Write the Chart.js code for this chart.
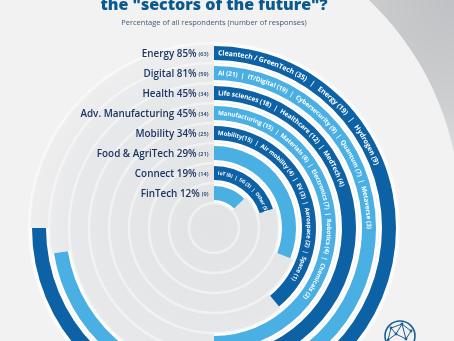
<!DOCTYPE html>
<html><head><meta charset="utf-8">
<script src="https://cdn.jsdelivr.net/npm/chart.js@4.4.1/dist/chart.umd.min.js"></script>
<style>
html,body{margin:0;padding:0;width:454px;height:341px;overflow:hidden;background:#f2f2f3;}
#wrap{position:absolute;left:0;top:0;width:454px;height:410px;}
</style></head><body>
<div id="wrap"><canvas id="c" width="454" height="410"></canvas></div>
<script>
const titleText = 'the "sectors of the future"?';
const subtitleText = 'Percentage of all respondents (number of responses)';
const sectors = ['Energy','Digital','Health','Adv. Manufacturing','Mobility','Food & AgriTech','Connect','FinTech'];
const percents = [85,81,45,45,34,29,19,12];
const responses = [63,59,34,34,25,21,14,9];
// share of a full turn swept by each ring
const arcSweep = [75,72.5,50.5,50,39,31,20,12.8];
const ringTexts = [
 'Cleantech / GreenTech (35)   |   Energy (19)   |   Hydrogen (9)',
 'AI (21)  |  IT/Digital (19)  |  Cybersecurity (9)  |  Quantum (7)  |  Metaverse (3)',
 'Life sciences (18)  |  Healthcare (12)  |  MedTech (4)',
 'Manufacturing (15)  |  Materials (6)  |  Electronics (7)  |  Robotics (4)  |  Chemicals (2)',
 'Mobility(15)  |  Air mobility (4)  |  EV (3)  |  Aerospace (2)  |  Space (1)',
 '',
 'IoT (6)  |  5G (3)  |  Other (5)',
 ''
];
const ringFontSize = [7.0,6.4,6.6,6.1,6.0,6,4.9,6];
const DARK = '#0d62a6', LIGHT = '#4aafe3';
const ringColors = sectors.map((s,i)=> i%2===0 ? DARK : LIGHT);

const datasets = [];
const ringIndex = [];
sectors.forEach((s,i)=>{
  ringIndex.push(datasets.length);
  datasets.push({label:s, data:[arcSweep[i], 100-arcSweep[i]],
    backgroundColor:[ringColors[i],'rgba(0,0,0,0)'], borderWidth:0, weight:14});
  if(i<sectors.length-1){
    datasets.push({label:'gap'+i, data:[100], backgroundColor:['rgba(0,0,0,0)'], borderWidth:0, weight:6});
  }
});

function arcText(ctx, text, cx, cy, r, startAng, font, color){
  ctx.save();
  ctx.font = font; ctx.fillStyle = color; ctx.textAlign='center'; ctx.textBaseline='middle';
  let a = startAng;
  for(const ch of text){
    const w = ctx.measureText(ch).width;
    const half = w/2/r;
    a += half;
    ctx.save();
    ctx.translate(cx + r*Math.cos(a), cy + r*Math.sin(a));
    ctx.rotate(a + Math.PI/2);
    ctx.fillText(ch,0,0.3);
    ctx.restore();
    a += half;
  }
  ctx.restore();
}

const decor = {
  id:'decor',
  beforeDraw(chart){
    const ctx = chart.ctx;
    const el = chart.getDatasetMeta(0).data[0];
    const cx = el.x, cy = el.y;
    const W = chart.width, H = chart.height;
    ctx.save();
    ctx.fillStyle = '#f2f2f3';
    ctx.fillRect(0,0,W,H);
    // top-right grey shade outside a large light disc
    ctx.save();
    ctx.beginPath(); ctx.rect(250,0,W-250,230); ctx.arc(168,212,292,0,Math.PI*2,true); ctx.clip();
    ctx.filter = 'blur(1.5px)';
    let g = ctx.createRadialGradient(W,0,0,W,0,190);
    g.addColorStop(0,'#bfc1c4'); g.addColorStop(0.55,'#ccced0'); g.addColorStop(0.8,'#dcdddf'); g.addColorStop(1,'#f2f2f3');
    ctx.fillStyle = g; ctx.fillRect(240,-10,W-230,250);
    ctx.restore();
    // inner disc
    g = ctx.createRadialGradient(cx,cy,0,cx,cy,184);
    g.addColorStop(0,'#e2e3e5'); g.addColorStop(0.75,'#e7e8ea'); g.addColorStop(1,'#eeeeef');
    ctx.fillStyle = g;
    ctx.beginPath(); ctx.arc(cx,cy,183,0,Math.PI*2); ctx.fill();
    // faint concentric circles
    ctx.strokeStyle = 'rgba(255,255,255,0.45)'; ctx.lineWidth = 2.5;
    for(let r=185;r>20;r-=20){ ctx.beginPath(); ctx.arc(cx,cy,r,0,Math.PI*2); ctx.stroke(); }
    ctx.restore();
  },
  beforeDatasetsDraw(chart){
    const ctx = chart.ctx;
    ctx.save(); ctx.fillStyle='#ffffff';
    ringIndex.forEach(di=>{
      const a = chart.getDatasetMeta(di).data[0];
      ctx.beginPath();
      ctx.arc(a.x,a.y,a.outerRadius+2.5,a.startAngle,a.endAngle);
      ctx.arc(a.x,a.y,a.innerRadius-2.5,a.endAngle,a.startAngle,true);
      ctx.closePath(); ctx.fill();
    });
    ctx.restore();
  },
  afterDatasetsDraw(chart){
    const ctx = chart.ctx;
    const el0 = chart.getDatasetMeta(0).data[0];
    const cx = el0.x;
    ctx.save();
    // title & subtitle
    ctx.fillStyle = '#0b5a8f'; ctx.textAlign='center'; ctx.textBaseline='alphabetic';
    ctx.font = '800 16px "Open Sans"';
    ctx.fillText(titleText, cx, 10);
    ctx.fillStyle = '#3f5a77'; ctx.font = '7.5px "Open Sans"';
    ctx.fillText(subtitleText, cx, 25);
    // labels and ring texts
    sectors.forEach((s,i)=>{
      const a = chart.getDatasetMeta(ringIndex[i]).data[0];
      const rm = (a.innerRadius + a.outerRadius)/2;
      const y = a.y - rm;
      const xr = a.x - 5.5;
      ctx.textAlign='right'; ctx.textBaseline='alphabetic'; ctx.fillStyle='#1b3762';
      ctx.font = '600 5.6px "Open Sans"';
      const small = '(' + responses[i] + ')';
      ctx.fillText(small, xr, y+3.4);
      const sw = ctx.measureText(small).width;
      ctx.font = '600 9.9px "Open Sans"';
      ctx.fillText(s + ' ' + percents[i] + '%', xr - sw - 2, y+3.5);
      if(ringTexts[i]){
        arcText(ctx, ringTexts[i], a.x, a.y, rm, a.startAngle + 4/rm, 'bold ' + ringFontSize[i] + 'px "Open Sans"', '#ffffff');
      }
    });
    ctx.restore();
  },
  afterDraw(chart){
    const ctx = chart.ctx;
    ctx.save();
    ctx.strokeStyle = '#1b5f95'; ctx.lineWidth = 1.6;
    const gx = 400, gy = 336, gr = 15;
    ctx.beginPath(); ctx.arc(gx,gy,gr,0,Math.PI*2); ctx.stroke();
    ctx.lineWidth = 1;
    const pts = [[gx-9,gy-8],[gx+2,gy-12],[gx+11,gy-5],[gx-4,gy-2],[gx+6,gy+3],[gx-12,gy+4]];
    const links = [[0,1],[1,2],[0,3],[1,3],[3,4],[2,4],[3,5],[0,5],[1,4]];
    links.forEach(([p,q])=>{ctx.beginPath();ctx.moveTo(pts[p][0],pts[p][1]);ctx.lineTo(pts[q][0],pts[q][1]);ctx.stroke();});
    ctx.fillStyle='#1b5f95';
    pts.forEach(p=>{ctx.beginPath();ctx.arc(p[0],p[1],1.4,0,Math.PI*2);ctx.fill();});
    ctx.restore();
  }
};

new Chart(document.getElementById('c'), {
  type:'doughnut',
  data:{labels:['sweep','rest'], datasets},
  options:{
    responsive:false, animation:false, events:[],
    rotation:0, circumference:360, radius:182, cutout:28,
    layout:{padding:{left:32,right:58,top:46,bottom:0}},
    plugins:{legend:{display:false}, tooltip:{enabled:false}, title:{display:false}}
  },
  plugins:[decor]
});
</script>
</body></html>
